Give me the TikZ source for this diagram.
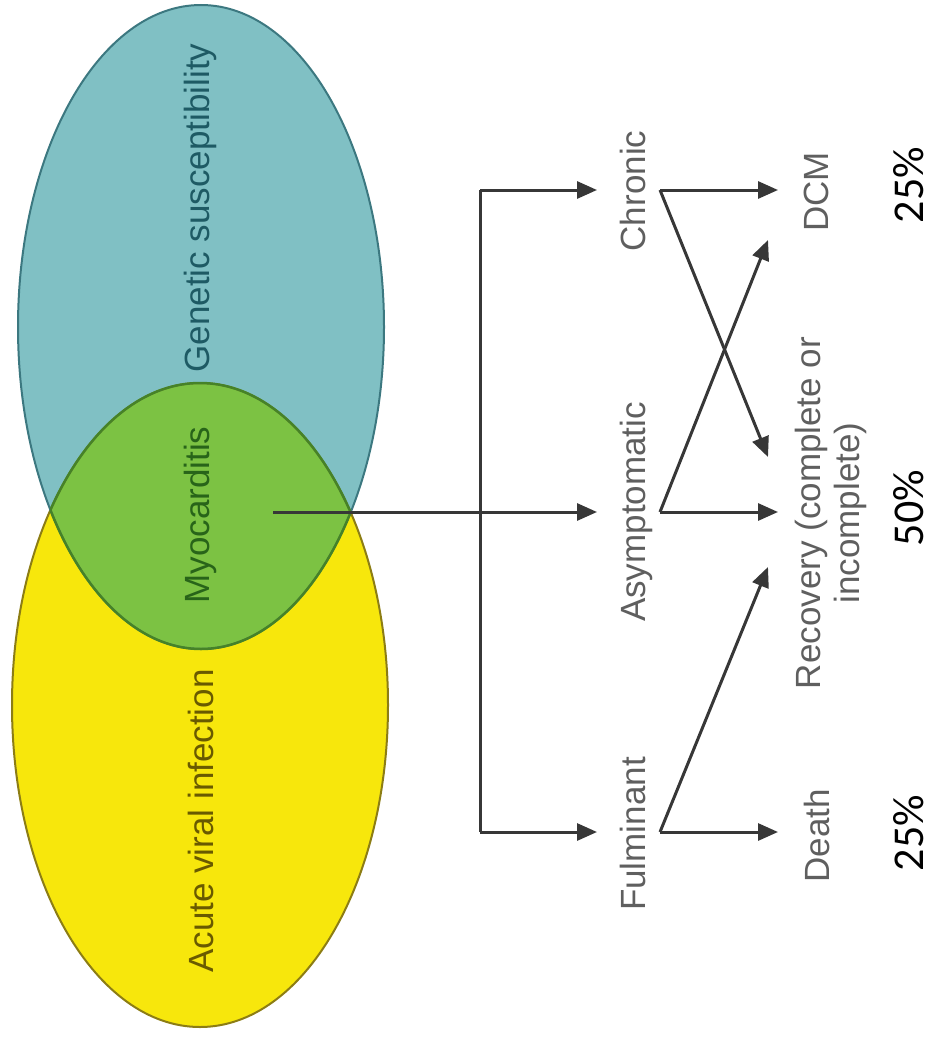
\documentclass[tikz,border=0pt]{standalone}
\usepackage{fontspec}
\setmainfont{Liberation Sans}
\newfontfamily\pctfont{Carlito}
\usetikzlibrary{arrows.meta}
\definecolor{tealfill}{RGB}{128,192,196}
\definecolor{tealedge}{RGB}{60,120,128}
\definecolor{tealtext}{RGB}{30,90,100}
\definecolor{yelfill}{RGB}{247,231,12}
\definecolor{yeledge}{RGB}{140,125,20}
\definecolor{yeltext}{RGB}{105,90,0}
\definecolor{grnfill}{RGB}{124,194,67}
\definecolor{grnedge}{RGB}{70,130,40}
\definecolor{grntext}{RGB}{40,100,25}
\definecolor{arrcol}{RGB}{55,55,55}
\definecolor{labcol}{RGB}{95,95,95}
\tikzset{
  vtext/.style={rotate=90, inner sep=0pt, font=\fontsize{35}{39}\selectfont},
  outtext/.style={vtext, text=labcol, align=center},
  pcttext/.style={rotate=90, inner sep=0pt, font=\pctfont\fontsize{44}{48}\selectfont, text=black},
  conn/.style={draw=arrcol, line width=3pt},
  arr/.style={conn, -{Triangle[length=20pt,width=17pt]}}
}
\begin{document}
\begin{tikzpicture}[x=1pt,y=-1pt]
\useasboundingbox (0,0) rectangle (938,1046);
% ellipses
\fill[yelfill] (200,705) ellipse (188 and 322);
\fill[tealfill] (201,327) ellipse (183 and 322);
\begin{scope}
  \clip (201,327) ellipse (183 and 322);
  \fill[grnfill] (200,705) ellipse (188 and 322);
\end{scope}
\draw[yeledge, line width=2pt] (200,705) ellipse (188 and 322);
\draw[tealedge, line width=2pt] (201,327) ellipse (183 and 322);
\begin{scope}
  \clip (201,327) ellipse (183 and 322);
  \draw[grnedge, line width=2.5pt] (200,705) ellipse (188 and 322);
\end{scope}
\begin{scope}
  \clip (200,705) ellipse (188 and 322);
  \draw[grnedge, line width=2.5pt] (201,327) ellipse (183 and 322);
\end{scope}
% ellipse texts
\node[vtext, text=tealtext] (gen) at (200,208) {Genetic susceptibility};
\node[vtext, text=grntext] (myo) at (200,515) {Myocarditis};
\node[vtext, text=yeltext] (acu) at (201,821) {Acute viral infection};
% outcome texts
\node[outtext] (chr) at (633,191) {Chronic};
\node[outtext] (asy) at (636,512) {Asymptomatic};
\node[outtext] (ful) at (633,834) {Fulminant};
\node[outtext] (dcm) at (816,192) {DCM};
\node[outtext] (rec) at (831,513) {Recovery (complete or\\incomplete)};
\node[outtext] (dea) at (817,836) {Death};
% percentages
\node[pcttext] (p1) at (909,185) {25\%};
\node[pcttext] (p2) at (909,508) {50\%};
\node[pcttext] (p3) at (909,833) {25\%};
% connector points
\coordinate (src) at (273,512);
\coordinate (bar) at (480,512);
\coordinate (bartop) at (480,190);
\coordinate (barbot) at (480,832);
\coordinate (chrin) at (597,190);
\coordinate (asyin) at (597,512);
\coordinate (fulin) at (597,832);
\coordinate (chrout) at (660,190);
\coordinate (asyout) at (660,512);
\coordinate (fulout) at (660,832);
\coordinate (dcmin) at (778,190);
\coordinate (dcmdiag) at (768,240);
\coordinate (recin) at (778,512);
\coordinate (recup) at (768,457);
\coordinate (reclow) at (768,567);
\coordinate (deain) at (778,832);
% connectors
\draw[arr] (src) -- (asyin);
\draw[conn] (bartop) -- (barbot);
\draw[arr] (bartop) -- (chrin);
\draw[arr] (barbot) -- (fulin);
\draw[arr] (chrout) -- (dcmin);
\draw[arr] (chrout) -- (recup);
\draw[arr] (asyout) -- (recin);
\draw[arr] (asyout) -- (dcmdiag);
\draw[arr] (fulout) -- (deain);
\draw[arr] (fulout) -- (reclow);
\end{tikzpicture}
\end{document}
